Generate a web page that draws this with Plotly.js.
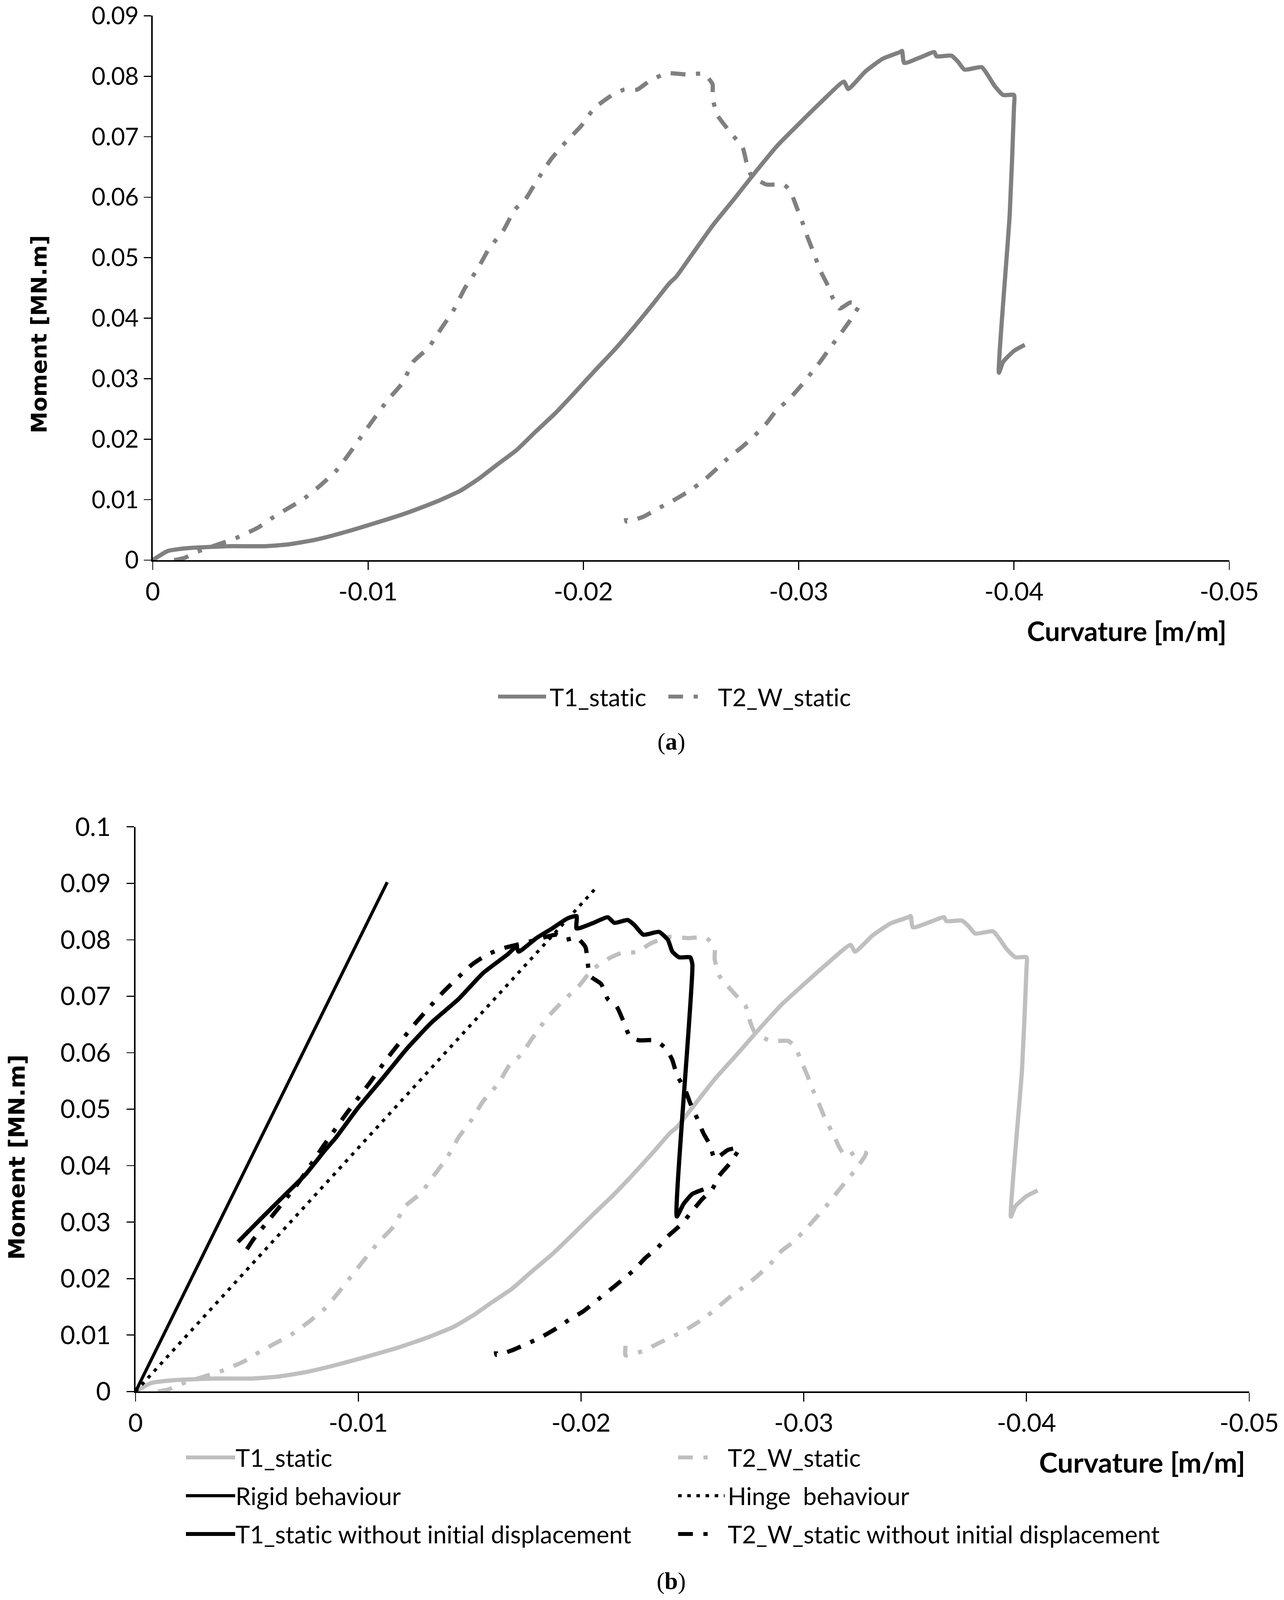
<!DOCTYPE html>
<html>
<head>
<meta charset="utf-8">
<script src="https://cdn.plot.ly/plotly-3.0.1.min.js"></script>
<style>
html,body{margin:0;padding:0;background:#fff;overflow:hidden;}
text{font-variant-ligatures:none;font-feature-settings:"liga" 0,"clig" 0;}
</style>
</head>
<body>
<div id="chart"></div>
<script>
// ---------- tick labels ----------
const xTickVals = [0, -0.01, -0.02, -0.03, -0.04, -0.05];
const xTickText = ['0', '-0.01', '-0.02', '-0.03', '-0.04', '-0.05'];
const yTickValsA = [0, 0.01, 0.02, 0.03, 0.04, 0.05, 0.06, 0.07, 0.08, 0.09];
const yTickTextA = ['0', '0.01', '0.02', '0.03', '0.04', '0.05', '0.06', '0.07', '0.08', '0.09'];
const yTickValsB = [0, 0.01, 0.02, 0.03, 0.04, 0.05, 0.06, 0.07, 0.08, 0.09, 0.1];
const yTickTextB = ['0', '0.01', '0.02', '0.03', '0.04', '0.05', '0.06', '0.07', '0.08', '0.09', '0.1'];

// ---------- series names ----------
const seriesNames = ['T1_static', 'T2_W_static', 'Rigid behaviour', 'Hinge  behaviour',
  'T1_static without initial displacement', 'T2_W_static without initial displacement'];

// ---------- T1_static ----------
const t1X = [0, -0.0007, -0.0017, -0.0035, -0.0052, -0.0063, -0.0076, -0.0090, -0.0104, -0.0118,
  -0.0132, -0.0143, -0.0152, -0.0160, -0.0169, -0.0178, -0.0187, -0.0196, -0.0205, -0.0214,
  -0.0223, -0.0232, -0.0240, -0.0243, -0.0250, -0.0260, -0.0270, -0.0280, -0.0290, -0.0300,
  -0.0310, -0.0321, -0.0323, -0.0331, -0.0339, -0.0347, -0.0348, -0.0349, -0.0357, -0.0363,
  -0.0364, -0.0371, -0.0374, -0.0377, -0.0385, -0.0388, -0.0391, -0.0395, -0.0400, -0.0400,
  -0.0398, -0.0393, -0.0395, -0.0400, -0.0405];
const t1Y = [0, 0.0015, 0.0020, 0.0023, 0.0023, 0.0026, 0.0034, 0.0047, 0.0062, 0.0078,
  0.0097, 0.0115, 0.0136, 0.0158, 0.0182, 0.0213, 0.0243, 0.0277, 0.0312, 0.0346,
  0.0383, 0.0422, 0.0458, 0.0468, 0.0503, 0.0553, 0.0597, 0.0642, 0.0685, 0.0721,
  0.0756, 0.0791, 0.0779, 0.0808, 0.0829, 0.0840, 0.0842, 0.0822, 0.0832, 0.0840,
  0.0833, 0.0834, 0.0824, 0.0811, 0.0815, 0.0801, 0.0784, 0.0769, 0.0769, 0.0749,
  0.0571, 0.0310, 0.0328, 0.0346, 0.0356];

// ---------- T2_W_static ----------
const t2X = [-0.0010, -0.0015, -0.0020, -0.0039, -0.0049, -0.0056, -0.0063, -0.0070, -0.0078, -0.0085,
  -0.0090, -0.0096, -0.0103, -0.0109, -0.0116, -0.0121, -0.0128, -0.0134, -0.0140, -0.0145,
  -0.0151, -0.0156, -0.0163, -0.0168, -0.0173, -0.0178, -0.0185, -0.0192, -0.0199, -0.0205,
  -0.0213, -0.0219, -0.0225, -0.0231, -0.0239, -0.0248, -0.0256, -0.0260, -0.0260, -0.0262,
  -0.0267, -0.0269, -0.0274, -0.0276, -0.0278, -0.0285, -0.0293, -0.0296, -0.0299, -0.0302,
  -0.0304, -0.0307, -0.0310, -0.0313, -0.0316, -0.0319, -0.0324, -0.0328, -0.0324, -0.0320,
  -0.0315, -0.0310, -0.0306, -0.0301, -0.0295, -0.0290, -0.0285, -0.0279, -0.0274, -0.0267,
  -0.0261, -0.0256, -0.0249, -0.0241, -0.0235, -0.0228, -0.0220, -0.0220];
const t2Y = [0.0000, 0.0004, 0.0013, 0.0037, 0.0054, 0.0071, 0.0086, 0.0101, 0.0124, 0.0147,
  0.0170, 0.0200, 0.0235, 0.0264, 0.0293, 0.0328, 0.0351, 0.0383, 0.0415, 0.0450,
  0.0482, 0.0514, 0.0546, 0.0579, 0.0596, 0.0625, 0.0663, 0.0692, 0.0718, 0.0747,
  0.0768, 0.0778, 0.0778, 0.0793, 0.0805, 0.0803, 0.0804, 0.0787, 0.0766, 0.0737,
  0.0713, 0.0704, 0.0682, 0.0654, 0.0636, 0.0621, 0.0621, 0.0611, 0.0584, 0.0556,
  0.0535, 0.0508, 0.0479, 0.0458, 0.0432, 0.0416, 0.0426, 0.0422, 0.0397, 0.0377,
  0.0353, 0.0328, 0.0310, 0.0288, 0.0264, 0.0249, 0.0226, 0.0204, 0.0188, 0.0168,
  0.0148, 0.0132, 0.0114, 0.0097, 0.0086, 0.0072, 0.0064, 0.0081];

// ---------- Rigid / Hinge behaviour ----------
const rigidX = [0, -0.0113];
const rigidY = [0, 0.0902];
const hingeX = [0, -0.0207];
const hingeY = [0, 0.0893];

// ---------- T1_static without initial displacement ----------
const t1nX = [-0.0046, -0.0056, -0.0067, -0.0076, -0.0085, -0.0090, -0.0100, -0.0111, -0.0122, -0.0133,
  -0.0145, -0.0156, -0.0167, -0.0171, -0.0172, -0.0180, -0.0187, -0.0194, -0.0198, -0.0198,
  -0.0205, -0.0212, -0.0215, -0.0221, -0.0224, -0.0228, -0.0235, -0.0239, -0.0241, -0.0244,
  -0.0249, -0.0250, -0.0243, -0.0246, -0.0250, -0.0255];
const t1nY = [0.0265, 0.0305, 0.0348, 0.0383, 0.0427, 0.0450, 0.0503, 0.0555, 0.0608, 0.0654,
  0.0695, 0.0741, 0.0774, 0.0788, 0.0779, 0.0803, 0.0820, 0.0838, 0.0842, 0.0820,
  0.0829, 0.0840, 0.0830, 0.0835, 0.0826, 0.0809, 0.0814, 0.0800, 0.0779, 0.0769,
  0.0769, 0.0756, 0.0310, 0.0332, 0.0350, 0.0358];

// ---------- T2_W_static without initial displacement ----------
const t2nX = [-0.0050, -0.0053, -0.0063, -0.0073, -0.0084, -0.0095, -0.0105, -0.0113, -0.0120, -0.0126,
  -0.0138, -0.0151, -0.0158, -0.0165, -0.0177, -0.0189, -0.0193, -0.0198, -0.0202, -0.0203,
  -0.0204, -0.0209, -0.0212, -0.0216, -0.0219, -0.0222, -0.0226, -0.0233, -0.0238, -0.0241,
  -0.0243, -0.0247, -0.0249, -0.0252, -0.0255, -0.0258, -0.0260, -0.0266, -0.0271, -0.0267,
  -0.0262, -0.0259, -0.0254, -0.0249, -0.0245, -0.0239, -0.0234, -0.0229, -0.0224, -0.0218,
  -0.0213, -0.0207, -0.0201, -0.0195, -0.0189, -0.0182, -0.0176, -0.0169, -0.0162, -0.0162];
const t2nY = [0.0252, 0.0270, 0.0319, 0.0369, 0.0433, 0.0494, 0.0546, 0.0590, 0.0625, 0.0654,
  0.0707, 0.0756, 0.0774, 0.0785, 0.0797, 0.0809, 0.0800, 0.0804, 0.0787, 0.0759,
  0.0736, 0.0722, 0.0695, 0.0682, 0.0656, 0.0628, 0.0622, 0.0622, 0.0608, 0.0587,
  0.0561, 0.0532, 0.0511, 0.0485, 0.0457, 0.0436, 0.0412, 0.0428, 0.0431, 0.0405,
  0.0382, 0.0359, 0.0339, 0.0315, 0.0296, 0.0275, 0.0253, 0.0237, 0.0216, 0.0196,
  0.0180, 0.0161, 0.0142, 0.0128, 0.0112, 0.0096, 0.0085, 0.0073, 0.0065, 0.0082];

// ---------- page geometry (reference pixels) ----------
const REF_W = 3287, REF_H = 4559;
const VW = window.innerWidth || REF_W, VH = window.innerHeight || REF_H;
const sx = VW / REF_W, sy = VH / REF_H, sm = Math.min(sx, sy);
const px = v => v / REF_W;          // reference x pixel -> paper fraction
const py = v => 1 - v / REF_H;      // reference y pixel -> paper fraction
document.getElementById('chart').style.width = VW + 'px';
document.getElementById('chart').style.height = VH + 'px';

// fit font size so that a text has a given width (reference px)
const ctx = document.createElement('canvas').getContext('2d');
function fit(text, family, weight, target) {
  ctx.font = weight + ' 100px ' + family;
  const w = ctx.measureText(text).width || 1;
  return Math.round(100 * target * sx / w * 10) / 10;
}
const SANS = 'Lato';
const xTickSize = fit('-0.01', SANS, 'normal', 152);
const yTickSizeA = fit('0.09', SANS, 'normal', 121);
const yTickSizeB = fit('0.09', SANS, 'normal', 129);
const legSize = fit(seriesNames[4], SANS, 'normal', 1016);
const curvSizeA = fit('Curvature [m/m]', SANS, 'bold', 511);
const curvSizeB = fit('Curvature [m/m]', SANS, 'bold', 528);
const momSizeA = fit('Moment [MN.m]', '"DejaVu Sans"', 'bold', 507);
const momSizeB = fit('Moment [MN.m]', '"DejaVu Sans"', 'bold', 526);

// ---------- styling ----------
const GRAY_A = '#808080', GRAY_B = '#bfbfbf', BLACK = '#000000';
const r = v => Math.round(v * sm * 10) / 10;
const DASHDOT = r(42) + 'px,' + r(30) + 'px,' + r(12) + 'px,' + r(30) + 'px';
const DOTTED = r(10) + 'px,' + r(16) + 'px';
const LW = r(12);
const SMOOTH = 0.5;

const traces = [
  {x: t1X, y: t1Y, xaxis: 'x', yaxis: 'y', name: seriesNames[0], legend: 'legend',
   mode: 'lines', line: {color: GRAY_A, width: LW, shape: 'spline', smoothing: SMOOTH}},
  {x: t2X, y: t2Y, xaxis: 'x', yaxis: 'y', name: seriesNames[1], legend: 'legend2',
   mode: 'lines', line: {color: GRAY_A, width: LW, dash: DASHDOT, shape: 'spline', smoothing: SMOOTH}},
  {x: t1X, y: t1Y, xaxis: 'x2', yaxis: 'y2', name: seriesNames[0], legend: 'legend3',
   mode: 'lines', line: {color: GRAY_B, width: LW, shape: 'spline', smoothing: SMOOTH}},
  {x: t2X, y: t2Y, xaxis: 'x2', yaxis: 'y2', name: seriesNames[1], legend: 'legend4',
   mode: 'lines', line: {color: GRAY_B, width: LW, dash: DASHDOT, shape: 'spline', smoothing: SMOOTH}},
  {x: rigidX, y: rigidY, xaxis: 'x2', yaxis: 'y2', name: seriesNames[2], legend: 'legend5',
   mode: 'lines', line: {color: BLACK, width: r(9)}},
  {x: hingeX, y: hingeY, xaxis: 'x2', yaxis: 'y2', name: seriesNames[3], legend: 'legend6',
   mode: 'lines', line: {color: BLACK, width: r(9), dash: DOTTED}},
  {x: t1nX, y: t1nY, xaxis: 'x2', yaxis: 'y2', name: seriesNames[4], legend: 'legend7',
   mode: 'lines', line: {color: BLACK, width: LW, shape: 'spline', smoothing: SMOOTH}},
  {x: t2nX, y: t2nY, xaxis: 'x2', yaxis: 'y2', name: seriesNames[5], legend: 'legend8',
   mode: 'lines', line: {color: BLACK, width: LW, dash: DASHDOT, shape: 'spline', smoothing: SMOOTH}}
];

function xAxis(domain, anchor) {
  return {domain: domain, anchor: anchor, range: [0, -0.05], tickmode: 'array',
    tickvals: xTickVals, ticktext: xTickText, showgrid: false, zeroline: false,
    showline: true, linecolor: '#000', linewidth: r(4), ticks: 'outside', ticklen: r(24),
    tickwidth: r(3), tickcolor: '#000',
    tickfont: {family: SANS, size: xTickSize, color: '#000'},
    ticklabelstandoff: r(16), fixedrange: true};
}
function yAxis(domain, anchor, range, vals, text, size, standoff) {
  return {domain: domain, anchor: anchor, range: range, tickmode: 'array',
    tickvals: vals, ticktext: text, showgrid: false, zeroline: false,
    showline: true, linecolor: '#000', linewidth: r(4), ticks: 'outside', ticklen: r(22),
    tickwidth: r(3), tickcolor: '#000',
    tickfont: {family: SANS, size: size, color: '#000'},
    ticklabelstandoff: standoff, fixedrange: true};
}
function leg(xref, yref) {
  return {x: px(xref), y: py(yref), xanchor: 'left', yanchor: 'middle',
    font: {family: SANS, size: legSize, color: '#000'}, bgcolor: 'rgba(0,0,0,0)',
    borderwidth: 0, itemwidth: 130, orientation: 'v'};
}

const layout = {
  width: VW, height: VH,
  margin: {l: 0, r: 0, t: 0, b: 0},
  paper_bgcolor: '#fff', plot_bgcolor: '#fff',
  font: {family: SANS, color: '#000'},
  showlegend: true,
  xaxis: xAxis([px(391), px(3147)], 'y'),
  yaxis: yAxis([py(1596), py(45)], 'x', [0, 0.09], yTickValsA, yTickTextA, yTickSizeA, r(27)),
  xaxis2: xAxis([px(347), px(3198)], 'y2'),
  yaxis2: yAxis([py(3965), py(2356)], 'x2', [0, 0.1], yTickValsB, yTickTextB, yTickSizeB, r(30)),
  legend: leg(1262, 1985),
  legend2: leg(1698, 1985),
  legend3: leg(463, 4153),
  legend4: leg(1723, 4153),
  legend5: leg(463, 4262),
  legend6: leg(1723, 4262),
  legend7: leg(463, 4371),
  legend8: leg(1723, 4371),
  annotations: [
    {text: '<b>Moment [MN.m]</b>', xref: 'paper', yref: 'paper', x: px(99), y: py(953),
     textangle: -90, showarrow: false, xanchor: 'center', yanchor: 'middle',
     font: {family: 'DejaVu Sans', size: momSizeA, color: '#000'}},
    {text: '<b>Moment [MN.m]</b>', xref: 'paper', yref: 'paper', x: px(43), y: py(3298),
     textangle: -90, showarrow: false, xanchor: 'center', yanchor: 'middle',
     font: {family: 'DejaVu Sans', size: momSizeB, color: '#000'}},
    {text: '<b>Curvature [m/m]</b>', xref: 'paper', yref: 'paper', x: px(3142), y: py(1797),
     showarrow: false, xanchor: 'right', yanchor: 'middle',
     font: {family: SANS, size: curvSizeA, color: '#000'}},
    {text: '<b>Curvature [m/m]</b>', xref: 'paper', yref: 'paper', x: px(3190), y: py(4165),
     showarrow: false, xanchor: 'right', yanchor: 'middle',
     font: {family: SANS, size: curvSizeB, color: '#000'}},
    {text: '(<b>a</b>)', xref: 'paper', yref: 'paper', x: px(1718), y: py(2114),
     showarrow: false, xanchor: 'center', yanchor: 'middle',
     font: {family: 'Liberation Serif, DejaVu Serif, serif', size: r(68), color: '#000'}},
    {text: '(<b>b</b>)', xref: 'paper', yref: 'paper', x: px(1718), y: py(4506),
     showarrow: false, xanchor: 'center', yanchor: 'middle',
     font: {family: 'Liberation Serif, DejaVu Serif, serif', size: r(68), color: '#000'}}
  ]
};

// legend sample geometry: [line start, line end, text start] in reference x pixels
const legendSamples = {
  legend: [1275, 1398, 1407], legend2: [1711, 1808, 1849],
  legend3: [476, 602, 608], legend4: [1736, 1830, 1868],
  legend5: [476, 602, 608], legend6: [1736, 1855, 1868],
  legend7: [476, 602, 608], legend8: [1736, 1830, 1868]
};

function fixLegendSamples() {
  document.querySelectorAll('#chart g.scrollbox').forEach(g => g.removeAttribute('clip-path'));
  Object.keys(legendSamples).forEach(function (id) {
    const spec = legendSamples[id];
    document.querySelectorAll('#chart g.' + id + ' g.traces').forEach(function (tr) {
      tr.querySelectorAll('.legendlines path').forEach(function (p) {
        const e = p.parentNode.getCTM().e;
        p.setAttribute('d', 'M' + (spec[0] * sx - e) + ',0H' + (spec[1] * sx - e));
      });
      const t = tr.querySelector('text.legendtext');
      if (t) {
        const e = t.parentNode.getCTM().e;
        t.setAttribute('x', spec[2] * sx - e);
        t.setAttribute('text-anchor', 'start');
      }
    });
  });
}

Plotly.newPlot('chart', traces, layout, {staticPlot: true, displayModeBar: false})
  .then(fixLegendSamples);
</script>
</body>
</html>
